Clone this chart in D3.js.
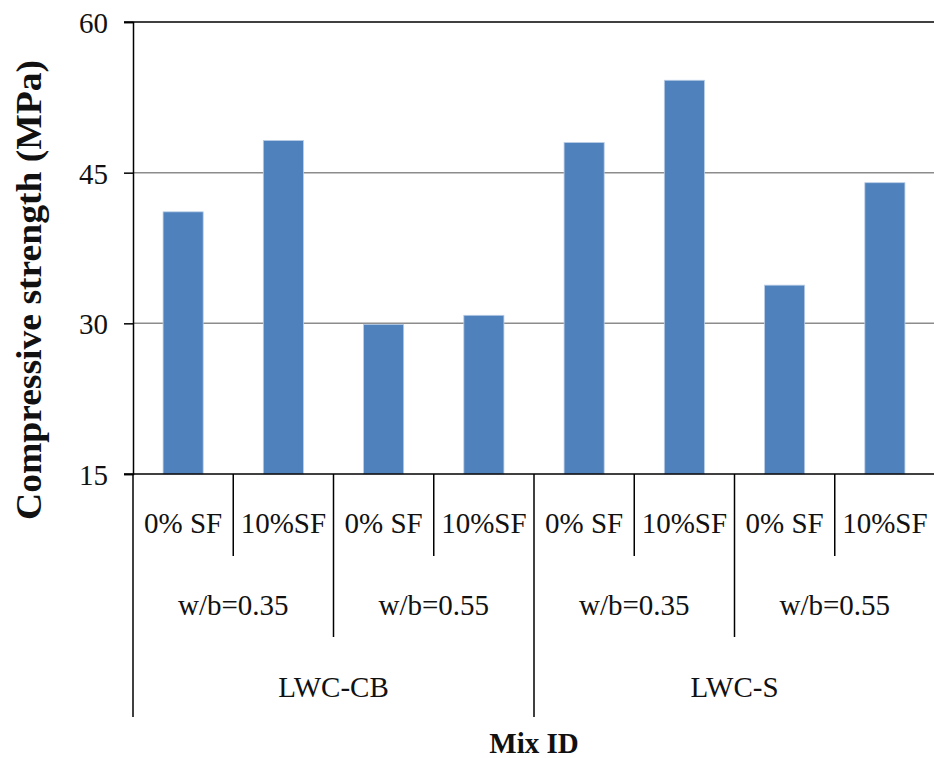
<!DOCTYPE html>
<html>
<head>
<meta charset="utf-8">
<script src="https://cdn.jsdelivr.net/npm/d3@7"></script>
<style>
  body { margin: 0; background: #fff; }
  svg { display: block; }
  text { font-family: "Liberation Serif", "Times New Roman", serif; fill: #111; }
</style>
</head>
<body>
<svg id="canvas" width="934" height="758"></svg>
<script>
// values
let sfLabels = ['0% SF', '10%SF', '0% SF', '10%SF', '0% SF', '10%SF', '0% SF', '10%SF']
let wbLabels = ['w/b=0.35', 'w/b=0.55', 'w/b=0.35', 'w/b=0.55']
let mixLabels = ['LWC-CB', 'LWC-S']
let strength = [41.1, 48.2, 29.9, 30.8, 48.0, 54.2, 33.8, 44.0]
let yTicks = [15, 30, 45, 60]

let canvas = d3.select('#canvas')

let plotLeft = 133
let plotRight = 935
let plotTop = 22
let plotBottom = 474

let xScale = d3.scaleBand()
  .domain(d3.range(strength.length))
  .range([plotLeft, plotRight])
  .paddingInner(0.6)
  .paddingOuter(0.3)

// slot boundaries for the multi-level category dividers
let slotScale = d3.scaleLinear()
  .domain([0, strength.length])
  .range([plotLeft, plotRight])

let yScale = d3.scaleLinear()
  .domain([15, 60])
  .range([plotBottom, plotTop])

// gridlines
canvas.selectAll('.grid')
  .data(yTicks.filter(t => t > 15 && t < 60))
  .enter()
  .append('line')
  .attr('class', 'grid')
  .attr('x1', plotLeft)
  .attr('x2', plotRight)
  .attr('y1', d => yScale(d))
  .attr('y2', d => yScale(d))
  .attr('stroke', '#8c8c8c')
  .attr('stroke-width', 1.5)

// top line at 60
canvas.append('line')
  .attr('x1', plotLeft - 9)
  .attr('x2', plotRight)
  .attr('y1', yScale(60))
  .attr('y2', yScale(60))
  .attr('stroke', '#000')
  .attr('stroke-width', 1.5)

// bars
canvas.selectAll('.bar')
  .data(strength)
  .enter()
  .append('rect')
  .attr('class', 'bar')
  .attr('x', (d, i) => xScale(i))
  .attr('width', xScale.bandwidth())
  .attr('y', d => yScale(d))
  .attr('height', d => plotBottom - yScale(d))
  .attr('fill', '#4f81bd')
  .attr('stroke', '#b9cde6')
  .attr('stroke-width', 0.8)

// y axis
let yAxis = d3.axisLeft(yScale)
  .tickValues(yTicks)
  .tickSize(9)
  .tickPadding(16)

let yAxisG = canvas.append('g')
  .attr('transform', 'translate(' + plotLeft + ',0)')
  .call(yAxis)

yAxisG.select('.domain').attr('stroke', '#000').attr('stroke-width', 1.5)
yAxisG.selectAll('.tick line').attr('stroke', '#000').attr('stroke-width', 1.5)
yAxisG.selectAll('.tick text')
  .style('font-family', '"Liberation Serif", serif')
  .style('font-size', '29px')
  .attr('fill', '#111')
  .attr('dy', '0.36em')

// x axis line
canvas.append('line')
  .attr('x1', plotLeft - 9)
  .attr('x2', plotRight)
  .attr('y1', plotBottom)
  .attr('y2', plotBottom)
  .attr('stroke', '#000')
  .attr('stroke-width', 1.5)

// category dividers: level depends on the boundary index
let boundaries = d3.range(strength.length + 1)
let dividerEnd = (b) => {
  if (b % 4 === 0) return 717
  if (b % 2 === 0) return 637
  return 556
}
canvas.selectAll('.divider')
  .data(boundaries)
  .enter()
  .append('line')
  .attr('class', 'divider')
  .attr('x1', b => slotScale(b))
  .attr('x2', b => slotScale(b))
  .attr('y1', plotBottom)
  .attr('y2', dividerEnd)
  .attr('stroke', '#000')
  .attr('stroke-width', 1.5)

// level 1 labels
canvas.selectAll('.sf')
  .data(sfLabels)
  .enter()
  .append('text')
  .attr('class', 'sf')
  .attr('x', (d, i) => xScale(i) + xScale.bandwidth() / 2)
  .attr('y', 533)
  .attr('text-anchor', 'middle')
  .style('font-size', '29px')
  .text(d => d)

// level 2 labels
canvas.selectAll('.wb')
  .data(wbLabels)
  .enter()
  .append('text')
  .attr('class', 'wb')
  .attr('x', (d, i) => slotScale(i * 2 + 1))
  .attr('y', 615)
  .attr('text-anchor', 'middle')
  .style('font-size', '29px')
  .text(d => d)

// level 3 labels
canvas.selectAll('.mix')
  .data(mixLabels)
  .enter()
  .append('text')
  .attr('class', 'mix')
  .attr('x', (d, i) => slotScale(i * 4 + 2))
  .attr('y', 697)
  .attr('text-anchor', 'middle')
  .style('font-size', '29px')
  .text(d => d)

// axis titles
canvas.append('text')
  .attr('x', slotScale(4))
  .attr('y', 753)
  .attr('text-anchor', 'middle')
  .style('font-size', '29px')
  .style('font-weight', 'bold')
  .text('Mix ID')

canvas.append('text')
  .attr('transform', 'translate(41,290) rotate(-90)')
  .attr('text-anchor', 'middle')
  .attr('textLength', 460)
  .attr('lengthAdjust', 'spacingAndGlyphs')
  .style('font-size', '36px')
  .style('font-weight', 'bold')
  .text('Compressive strength (MPa)')
</script>
</body>
</html>
